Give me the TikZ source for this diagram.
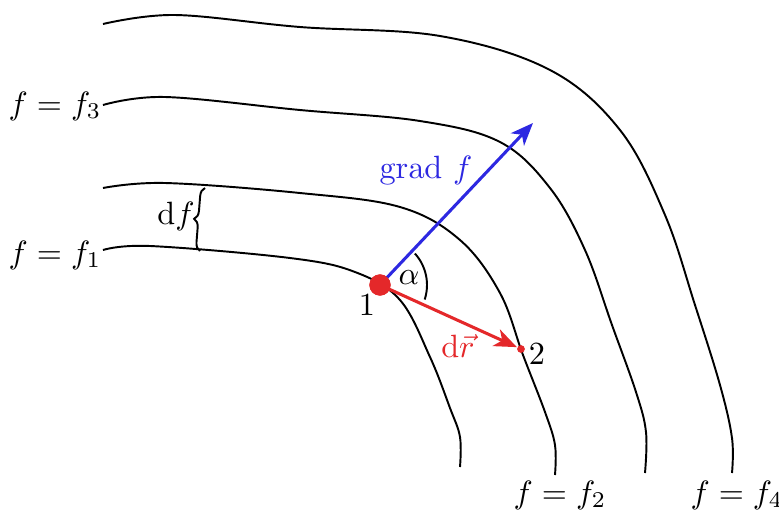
\documentclass[tikz,border=0pt]{standalone}
\usetikzlibrary{arrows.meta,decorations.pathreplacing}
\definecolor{gblue}{RGB}{45,40,225}
\definecolor{pred}{RGB}{228,40,42}
\tikzset{
  level/.style={line width=0.6pt, smooth, tension=0.6},
  lab/.style={inner sep=1pt},
  vec/.style={line width=0.95pt, -{Stealth[length=7pt,width=5.6pt,inset=2pt]}},
}
\begin{document}
\begin{tikzpicture}[x=0.31pt,y=-0.31pt]
\useasboundingbox (0,0) rectangle (779,510);
% level curves
\draw[level] plot coordinates {(103,24) (175,15) (300,27) (440,36) (550,70) (620,130) (665,215) (695,305) (720,385) (732,438) (732,473)};
\draw[level] plot coordinates {(103,105) (165,97) (300,110) (420,121) (500,142) (550,188) (585,250) (612,325) (636,392) (646,432) (645,473)};
\draw[level] plot coordinates {(103,188) (165,183) (300,193) (400,207) (460,240) (500,293) (523,355) (545,412) (555,445) (555,475)};
\draw[level] plot coordinates {(103,250) (150,246) (290,258) (355,272) (400,300) (430,357) (450,408) (460,437) (460,467)};
% labels of level curves
\node[lab] (l3) at (55,106) {$f=f_3$};
\node[lab] (l1) at (55,255) {$f=f_1$};
\node[lab] (l2) at (560,495) {$f=f_2$};
\node[lab] (l4) at (737,495) {$f=f_4$};
% brace
\coordinate (bt) at (205,188);
\coordinate (bb) at (200,251);
\draw[line width=0.6pt, decorate, decoration={brace, amplitude=2.6pt, mirror}] (bt) -- (bb);
\node[lab] (df) at (176,216) {$\mathrm{d}f$};
% points
\node[circle, fill=pred, inner sep=0pt, minimum size=6.6pt] (p1) at (380,285) {};
\node[circle, fill=pred, inner sep=0pt, minimum size=2.4pt] (p2) at (521,349) {};
\coordinate (gtip) at (533,123);
% angle arc
\draw[line width=0.6pt] (p1.center) ++(-42:47) arc[start angle=-42, end angle=18, radius=47];
\node[lab] (alpha) at (409,278) {$\alpha$};
% vectors
\draw[vec, draw=gblue, fill=gblue] (p1.center) -- (gtip);
\draw[vec, draw=pred, fill=pred] (p1.center) -- (p2);
\node[circle, fill=pred, inner sep=0pt, minimum size=6.6pt] at (p1) {};
% vector labels
\node[lab, text=gblue] (grad) at (426,170) {$\mathrm{grad}\ f$};
\node[lab, text=pred] (dr) at (458,346) {$\mathrm{d}\vec{r}$};
\node[lab] (n1) at (367,305) {$1$};
\node[lab] (n2) at (537,354) {$2$};
\end{tikzpicture}
\end{document}
